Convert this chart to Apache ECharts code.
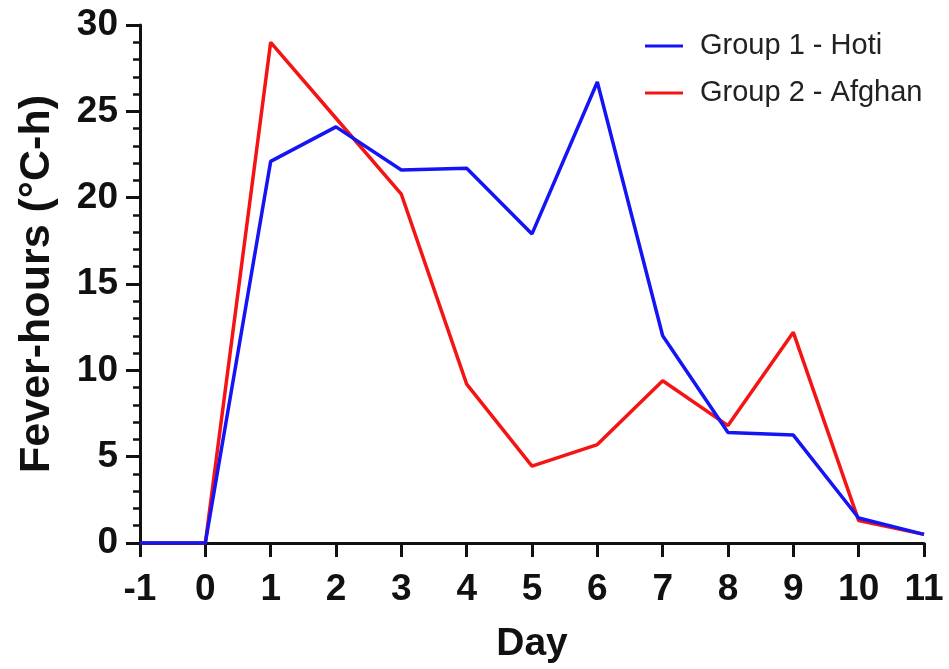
<!DOCTYPE html>
<html>
<head>
<meta charset="utf-8">
<script src="https://cdn.jsdelivr.net/npm/echarts@6/dist/echarts.min.js"></script>
<style>
html,body{margin:0;padding:0;background:#fff;overflow:hidden;}
#c{width:949px;height:669px;}
</style>
</head>
<body>
<div id="c"></div>
<script>
var days = [-1, 0, 1, 2, 3, 4, 5, 6, 7, 8, 9, 10, 11];
var hoti = [0, 0, 22.1, 24.1, 21.6, 21.7, 17.9, 26.7, 12.0, 6.4, 6.25, 1.45, 0.5];
var afghan = [0, 0, 29.0, 24.6, 20.2, 9.2, 4.45, 5.7, 9.4, 6.8, 12.2, 1.3, 0.5];
var seriesNames = ['Group 1 - Hoti', 'Group 2 - Afghan'];

function pairs(vals){ return days.map(function(d,i){ return [d, vals[i]]; }); }

var chart = echarts.init(document.getElementById('c'), null, {renderer:'canvas', width:949, height:669});
var axisFont = {fontFamily:'Liberation Sans, Arial, sans-serif', fontWeight:'bold', color:'#111'};
chart.setOption({
  animation:false,
  backgroundColor:'#fff',
  grid:{left:140, width:784, top:25, height:522, containLabel:false},
  legend:{
    orient:'vertical', left:640, top:26, itemGap:17,
    itemWidth:38, itemHeight:3, icon:'rect',
    data:seriesNames,
    textStyle:{fontFamily:'Liberation Sans, Arial, sans-serif', fontSize:29, lineHeight:30, color:'#222', padding:[0,0,0,12]}
  },
  xAxis:{
    type:'value', min:-1, max:11, interval:1,
    name:'Day', nameLocation:'middle', nameGap:82,
    nameTextStyle:Object.assign({fontSize:39}, axisFont),
    axisLine:{onZero:false, lineStyle:{color:'#111', width:3}},
    axisTick:{length:14, inside:false, lineStyle:{color:'#111', width:3}},
    axisLabel:Object.assign({fontSize:37, margin:28, showMinLabel:true, showMaxLabel:true}, axisFont),
    splitLine:{show:false}
  },
  yAxis:{
    type:'value', min:0, max:30, interval:5,
    name:'Fever-hours (°C-h)', nameLocation:'middle', nameGap:81,
    nameTextStyle:Object.assign({fontSize:43}, axisFont),
    axisLine:{show:true, onZero:false, lineStyle:{color:'#111', width:3}},
    axisTick:{show:true, length:14, lineStyle:{color:'#111', width:3}},
    minorTick:{show:true, splitNumber:5, length:7, lineStyle:{color:'#111', width:2.5}},
    axisLabel:Object.assign({fontSize:37, margin:22}, axisFont),
    splitLine:{show:false}
  },
  series:[
    {name:seriesNames[0], type:'line', data:pairs(hoti), symbol:'none', z:3,
     lineStyle:{color:'#1414f5', width:3.5}, itemStyle:{color:'#1414f5'}},
    {name:seriesNames[1], type:'line', data:pairs(afghan), symbol:'none', z:2,
     lineStyle:{color:'#f51414', width:3.5}, itemStyle:{color:'#f51414'}}
  ]
});
</script>
</body>
</html>
